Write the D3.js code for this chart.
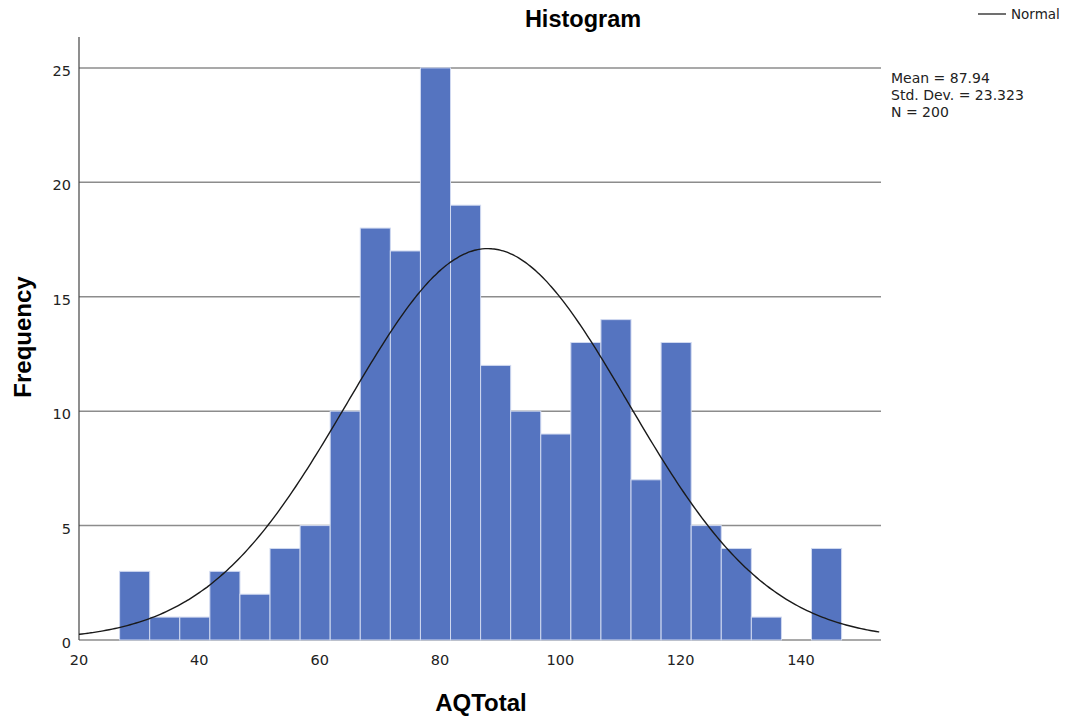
<!DOCTYPE html>
<html>
<head>
<meta charset="utf-8">
<script src="https://cdn.jsdelivr.net/npm/d3@7"></script>
<style>
  body { margin: 0; background: #fff; }
  text { font-family: "Liberation Sans", Arial, sans-serif; }
  .small { font-family: "DejaVu Sans", sans-serif; }
</style>
</head>
<body>
<svg id="chart" width="1065" height="720"></svg>
<script>
// histogram of AQTotal, bins of width 5
var binStart = 26.75;
var binWidth = 5;
var counts = [3, 1, 1, 3, 2, 4, 5, 10, 18, 17, 25, 19, 12, 10, 9, 13, 14, 7, 13, 5, 4, 1, 0, 4];
var xTicks = [20, 40, 60, 80, 100, 120, 140];
var yTicks = [0, 5, 10, 15, 20, 25];
var mean = 87.94, sd = 23.323, n = 200;
var statLines = ["Mean = 87.94", "Std. Dev. = 23.323", "N = 200"];

var svg = d3.select("#chart");

var x = d3.scaleLinear().domain([20, 153.3]).range([79, 881]);
var y = d3.scaleLinear().domain([0, 26.35]).range([640, 37]);

var bins = counts.map(function(c, i){
    return { x0: binStart + i * binWidth, x1: binStart + (i + 1) * binWidth, count: c };
});

// gridlines (behind bars)
svg.append("g").selectAll("line")
    .data(yTicks)
    .enter()
    .append("line")
    .attr("x1", x(20))
    .attr("x2", x(153.3))
    .attr("y1", function(d){ return y(d) })
    .attr("y2", function(d){ return y(d) })
    .attr("stroke", "#8c8c8c")
    .attr("stroke-width", 1.5);

// bars
svg.append("g").selectAll("rect")
    .data(bins.filter(function(b){ return b.count > 0 }))
    .enter()
    .append("rect")
    .attr("x", function(d){ return x(d.x0) })
    .attr("width", function(d){ return x(d.x1) - x(d.x0) })
    .attr("y", function(d){ return y(d.count) })
    .attr("height", function(d){ return y(0) - y(d.count) })
    .attr("fill", "#5574c0")
    .attr("stroke", "#d0d9f0")
    .attr("stroke-width", 1);

// y axis line
svg.append("line")
    .attr("x1", x(20)).attr("x2", x(20))
    .attr("y1", y(26.35)).attr("y2", y(0))
    .attr("stroke", "#444")
    .attr("stroke-width", 1.2);

// normal curve
var pts = d3.range(20, 153.31, 0.5).map(function(v){
    var z = (v - mean) / sd;
    return [v, n * binWidth * Math.exp(-0.5 * z * z) / (sd * Math.sqrt(2 * Math.PI))];
});
svg.append("path")
    .datum(pts)
    .attr("d", d3.line()
        .x(function(d){ return x(d[0]) })
        .y(function(d){ return y(d[1]) })
        .curve(d3.curveBasis))
    .attr("fill", "none")
    .attr("stroke", "#1a1a1a")
    .attr("stroke-width", 1.4);

// tick labels
svg.append("g").selectAll("text")
    .data(xTicks)
    .enter()
    .append("text")
    .attr("class", "small")
    .attr("x", function(d){ return x(d) })
    .attr("y", 665)
    .attr("text-anchor", "middle")
    .attr("font-size", 14.5)
    .attr("fill", "#222")
    .text(function(d){ return d });

svg.append("g").selectAll("text")
    .data(yTicks)
    .enter()
    .append("text")
    .attr("class", "small")
    .attr("x", 71)
    .attr("y", function(d){ return y(d) + 8 })
    .attr("text-anchor", "end")
    .attr("font-size", 14.5)
    .attr("fill", "#222")
    .text(function(d){ return d });

// titles
svg.append("text")
    .attr("x", 583).attr("y", 27)
    .attr("text-anchor", "middle")
    .attr("font-size", 23.5).attr("font-weight", "bold")
    .text("Histogram");

svg.append("text")
    .attr("x", 481).attr("y", 711)
    .attr("text-anchor", "middle")
    .attr("font-size", 24).attr("font-weight", "bold")
    .text("AQTotal");

svg.append("text")
    .attr("transform", "translate(31,337) rotate(-90)")
    .attr("text-anchor", "middle")
    .attr("font-size", 24).attr("font-weight", "bold")
    .text("Frequency");

// legend
svg.append("line")
    .attr("x1", 978).attr("x2", 1006)
    .attr("y1", 14).attr("y2", 14)
    .attr("stroke", "#333").attr("stroke-width", 1.4);
svg.append("text")
    .attr("class", "small")
    .attr("x", 1011).attr("y", 19)
    .attr("font-size", 13.5)
    .attr("fill", "#222")
    .text("Normal");

svg.append("g").selectAll("text")
    .data(statLines)
    .enter()
    .append("text")
    .attr("class", "small")
    .attr("x", 891)
    .attr("y", function(d, i){ return 83 + i * 17 })
    .attr("font-size", 14)
    .attr("fill", "#222")
    .text(function(d){ return d });
</script>
</body>
</html>
